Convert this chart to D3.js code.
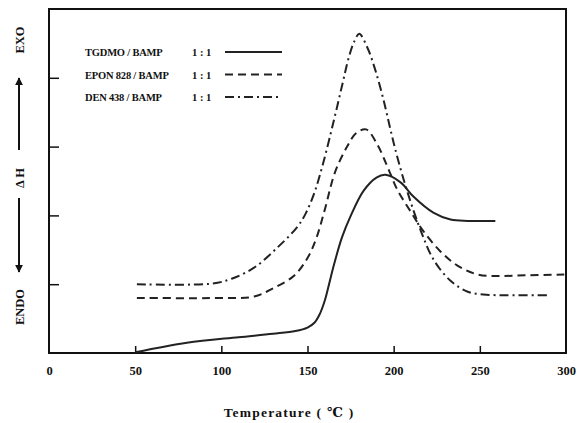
<!DOCTYPE html>
<html>
<head>
<meta charset="utf-8">
<script src="https://cdn.jsdelivr.net/npm/d3@7"></script>
<style>
  body { margin: 0; background: #fff; }
  text { font-family: "Liberation Serif", "DejaVu Serif", serif; font-weight: bold; fill: #111; }
</style>
</head>
<body>
<svg width="581" height="423"></svg>
<script>
// data (temperature in C, heat flow in arbitrary units)
const tgdmo = [
  [50, 0.01], [80, 0.15], [110, 0.23], [130, 0.28], [143, 0.32], [150, 0.37],
  [154, 0.44], [157, 0.56], [160, 0.76], [162.5, 1.0], [165, 1.25], [170, 1.68],
  [175, 1.99], [182.6, 2.36], [190, 2.55], [195.3, 2.59], [204, 2.48],
  [211.6, 2.27], [223, 2.04], [233, 1.94], [243, 1.92], [259, 1.92]
];
const epon828 = [
  [51, 0.8], [99, 0.8], [119, 0.82], [130, 0.94], [142, 1.12], [150, 1.38],
  [155, 1.66], [160, 2.08], [166, 2.63], [173, 3.0], [178, 3.19], [184, 3.25],
  [190.7, 3.02], [196.5, 2.7], [202, 2.38], [210, 2.05], [217, 1.78], [227, 1.48],
  [237, 1.27], [249, 1.14], [262, 1.12], [278, 1.13], [299, 1.14]
];
const den438 = [
  [51, 1.0], [95, 1.01], [106, 1.08], [119, 1.24], [132, 1.52], [144, 1.83],
  [149, 2.03], [154, 2.33], [159, 2.75], [165, 3.35], [170, 3.88], [174, 4.3],
  [177, 4.52], [180, 4.64], [184.9, 4.43], [189.5, 4.1], [194.2, 3.67],
  [198.3, 3.23], [202.3, 2.83], [208, 2.34], [215.7, 1.78], [223.3, 1.35],
  [233, 1.05], [243, 0.89], [252, 0.85], [262, 0.84], [291, 0.84]
];
const seriesNames = ['TGDMO / BAMP', 'EPON 828 / BAMP', 'DEN 438 / BAMP'];
const ratioLabel = '1 : 1';
const xTickValues = [0, 50, 100, 150, 200, 250, 300];
const yTickValues = [1, 2, 3, 4];

const svg = d3.select('svg');
const svgWidth = +svg.attr('width');
const svgHeight = +svg.attr('height');
const margins = { top: 9, right: 15, bottom: 70, left: 49 };
const chartWidth = svgWidth - margins.left - margins.right;
const chartHeight = svgHeight - margins.top - margins.bottom;

const xScale = d3.scaleLinear().domain([0, 300]).range([0, chartWidth]);
const yScale = d3.scaleLinear().domain([0, 5]).range([chartHeight, 0]);

const chart = svg.append('g')
  .attr('transform', `translate(${margins.left}, ${margins.top})`);

// frame
chart.append('rect')
  .attr('width', chartWidth)
  .attr('height', chartHeight)
  .attr('fill', 'none')
  .attr('stroke', '#111')
  .attr('stroke-width', 2);

// x axis: inner ticks, labels below
const xAxis = d3.axisBottom(xScale)
  .tickValues(xTickValues)
  .tickSizeInner(-7)
  .tickSizeOuter(0)
  .tickPadding(13);
const xAxisGroup = chart.append('g')
  .attr('transform', `translate(0, ${chartHeight})`)
  .call(xAxis);
xAxisGroup.select('path.domain').remove();
xAxisGroup.selectAll('.tick line')
  .attr('stroke', '#111')
  .attr('stroke-width', 1.5)
  .attr('display', d => (d === 0 || d === 300) ? 'none' : null);
xAxisGroup.selectAll('.tick text')
  .attr('font-size', 12.5)
  .attr('fill', '#111')
  .attr('font-family', '"Liberation Serif", serif')
  .attr('font-weight', 'bold');

// y axis: inner ticks only
const yAxis = d3.axisLeft(yScale)
  .tickValues(yTickValues)
  .tickSizeInner(-10)
  .tickSizeOuter(0)
  .tickFormat('');
const yAxisGroup = chart.append('g').call(yAxis);
yAxisGroup.select('path.domain').remove();
yAxisGroup.selectAll('.tick line')
  .attr('stroke', '#111')
  .attr('stroke-width', 1.5);

// x axis title
svg.append('text')
  .attr('x', 289)
  .attr('y', 417)
  .attr('text-anchor', 'middle')
  .attr('font-size', 13.5)
  .attr('letter-spacing', 1.2)
  .text('Temperature ( ℃ )');

// y axis title: EXO ↑ ΔH ↓ ENDO
const yTitle = svg.append('g');
const defs = svg.append('defs');
defs.append('marker')
  .attr('id', 'arrow')
  .attr('viewBox', '0 0 10 10')
  .attr('refX', 9).attr('refY', 5)
  .attr('markerWidth', 4).attr('markerHeight', 5)
  .attr('orient', 'auto')
  .append('path')
    .attr('d', 'M0,0 L10,5 L0,10 Z')
    .attr('fill', '#111');

const yLabels = [['EXO', 40], ['Δ H', 178], ['ENDO', 307]];
yLabels.forEach(([label, cy]) => {
  yTitle.append('text')
    .attr('transform', `translate(24, ${cy}) rotate(-90)`)
    .attr('text-anchor', 'middle')
    .attr('font-size', 12.5)
    .text(label);
});
yTitle.append('line')
  .attr('x1', 19).attr('x2', 19).attr('y1', 150).attr('y2', 78)
  .attr('stroke', '#111').attr('stroke-width', 2)
  .attr('marker-end', 'url(#arrow)');
yTitle.append('line')
  .attr('x1', 19).attr('x2', 19).attr('y1', 198).attr('y2', 272)
  .attr('stroke', '#111').attr('stroke-width', 2)
  .attr('marker-end', 'url(#arrow)');

// curves
const dashes = [null, '8,5', '9,4,2,4'];
const allSeries = [tgdmo, epon828, den438];
const lineGenerator = d3.line()
  .x(d => xScale(d[0]))
  .y(d => yScale(d[1]))
  .curve(d3.curveCatmullRom.alpha(0.5));

chart.selectAll('path.curve')
  .data(allSeries)
  .enter()
  .append('path')
    .attr('class', 'curve')
    .attr('d', d => lineGenerator(d))
    .attr('fill', 'none')
    .attr('stroke', '#222')
    .attr('stroke-width', 2)
    .attr('stroke-dasharray', (d, i) => dashes[i]);

// legend
const legend = svg.append('g').attr('transform', 'translate(85, 52)');
seriesNames.forEach((name, i) => {
  const row = legend.append('g').attr('transform', `translate(0, ${i * 22.5})`);
  row.append('text')
    .attr('y', 4)
    .attr('font-size', 10.5)
    .attr('letter-spacing', -0.2)
    .text(name);
  row.append('text')
    .attr('x', 107)
    .attr('y', 4)
    .attr('font-size', 10.5)
    .text(ratioLabel);
  row.append('line')
    .attr('x1', 140).attr('x2', 197)
    .attr('stroke', '#222')
    .attr('stroke-width', 2)
    .attr('stroke-dasharray', dashes[i]);
});
</script>
</body>
</html>
